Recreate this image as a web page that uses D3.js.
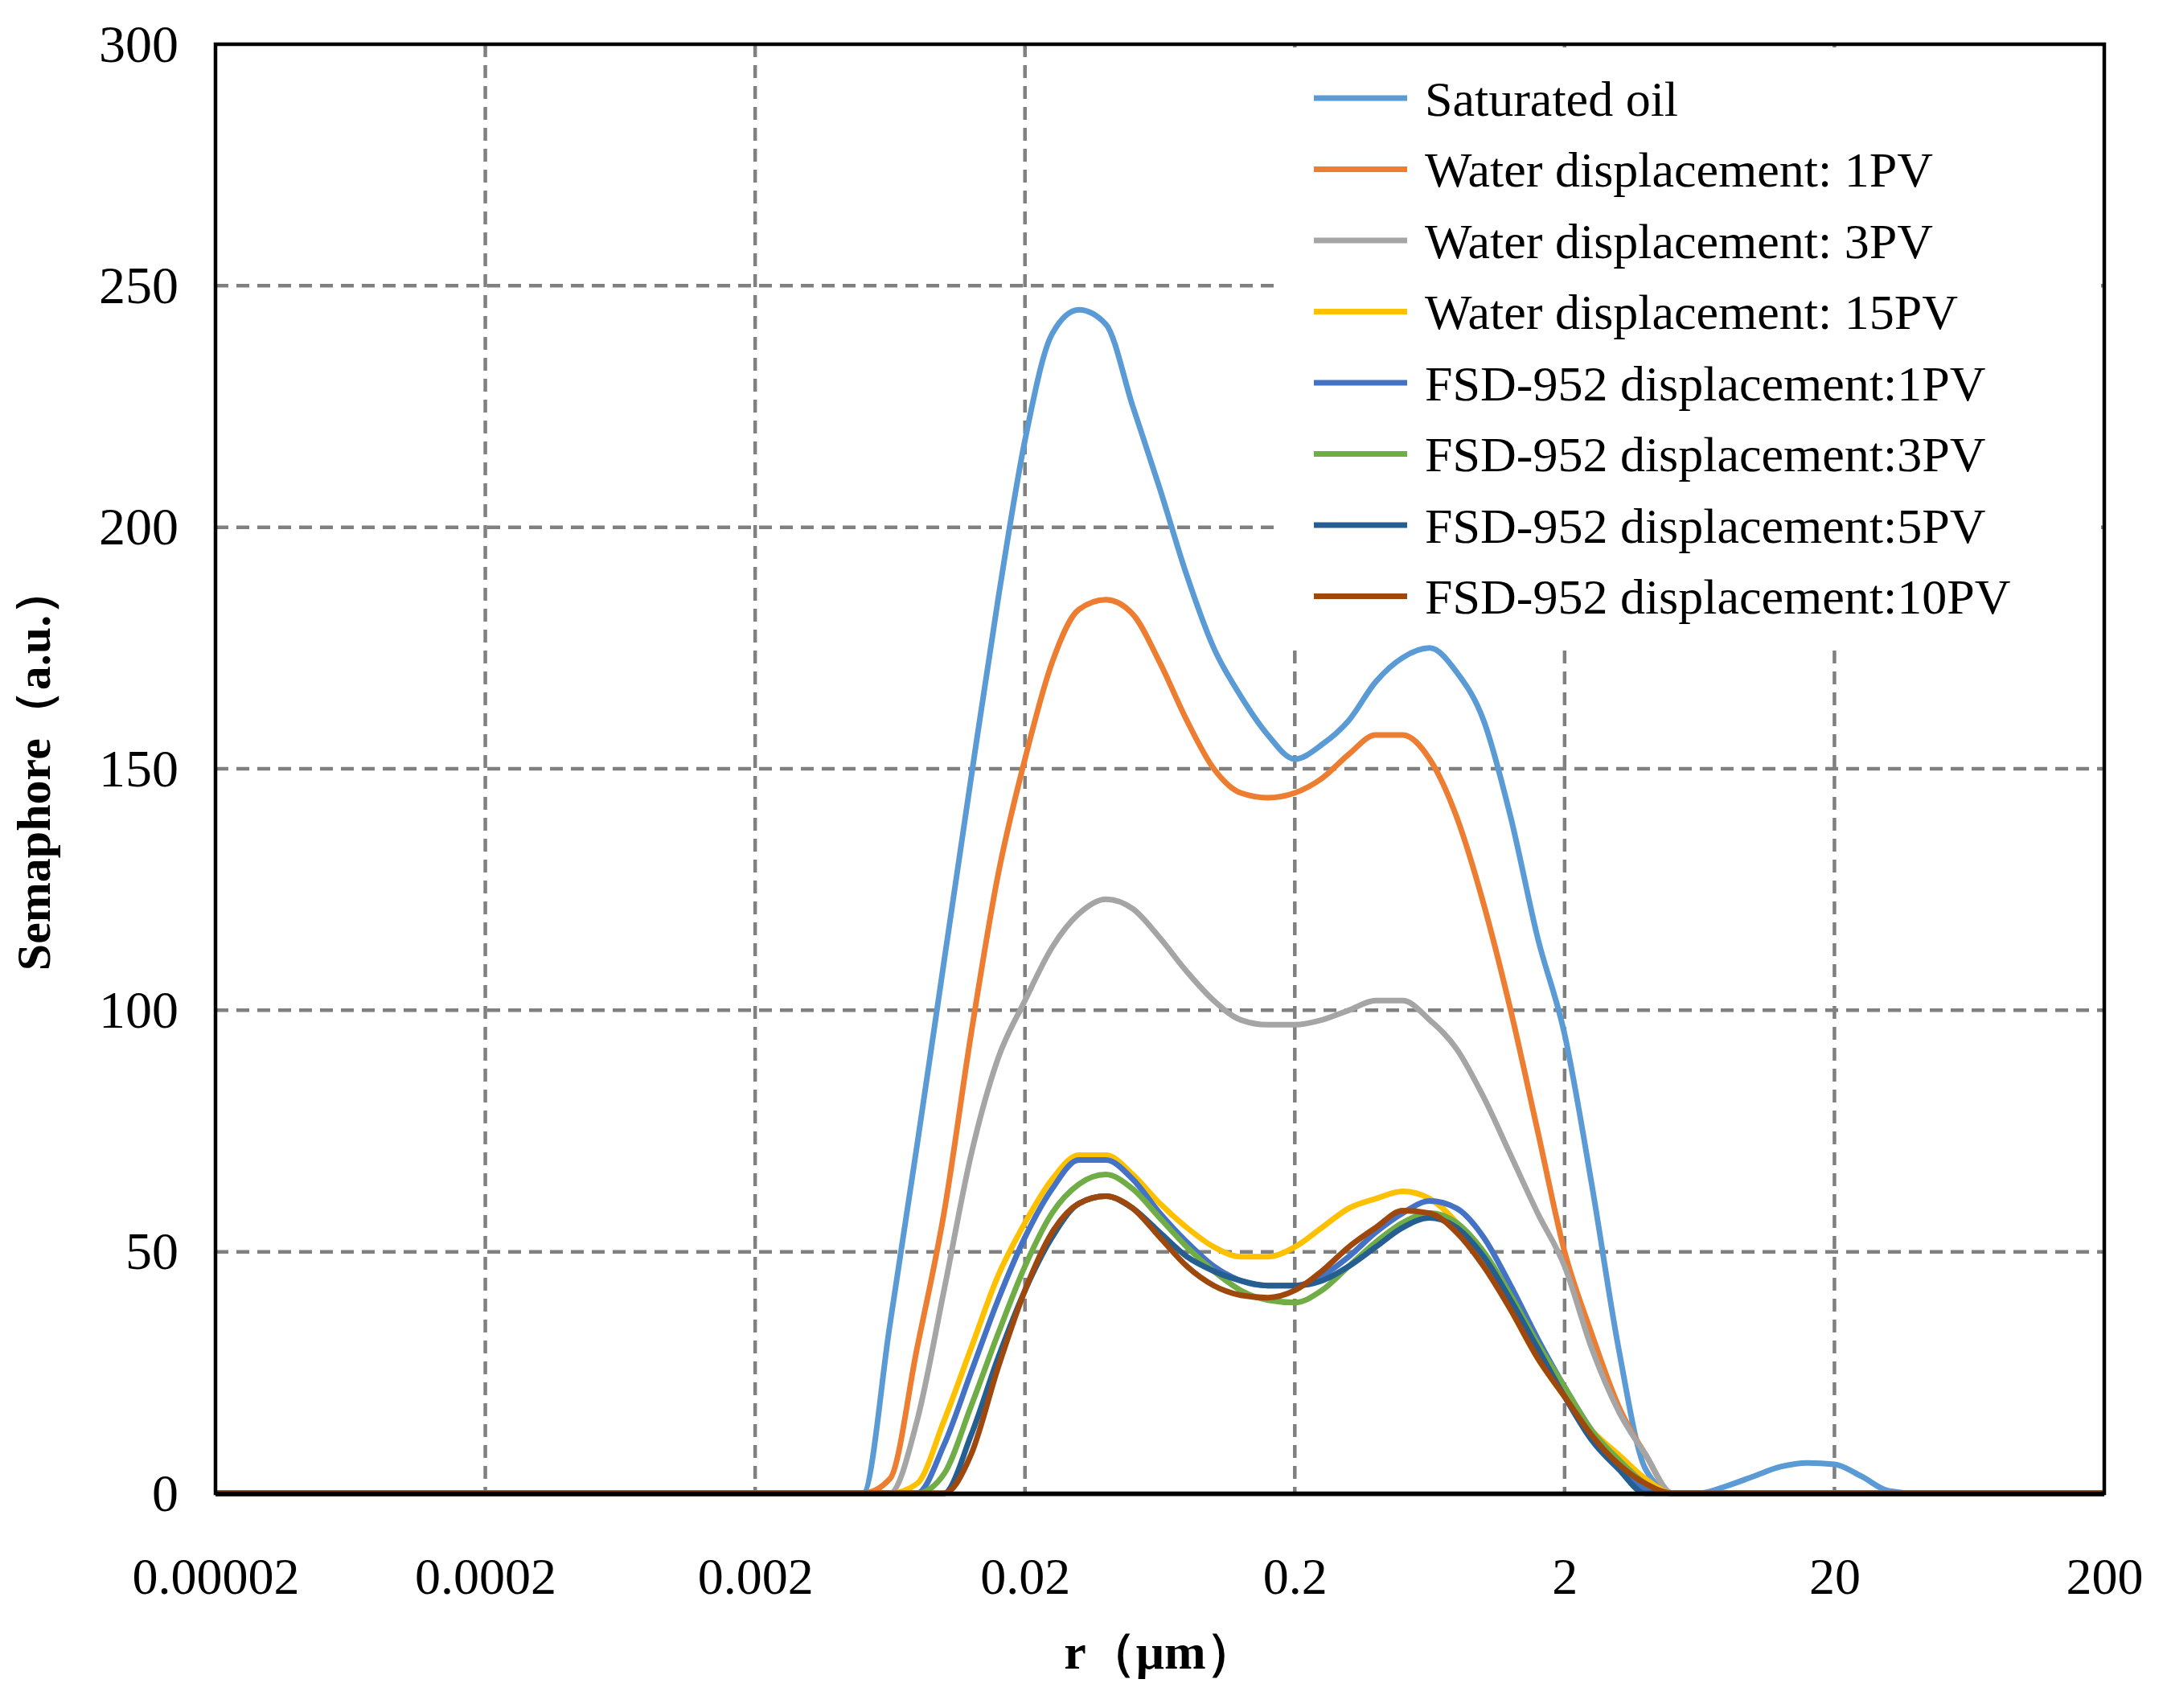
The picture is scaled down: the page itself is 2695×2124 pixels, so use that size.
<!DOCTYPE html>
<html><head><meta charset="utf-8">
<script src="https://cdn.jsdelivr.net/npm/d3@7"></script>
<style>body{margin:0;background:#fff}</style>
</head><body>
<svg id="c" width="2695" height="2124"></svg>
<script>
const xTicks = [0.00002,0.0002,0.002,0.02,0.2,2,20,200];
const xTickLabels = ["0.00002","0.0002","0.002","0.02","0.2","2","20","200"];
const yTicks = [0,50,100,150,200,250,300];
const rGrid = [0.00002,0.00502,0.00632,0.00796,0.01002,0.01262,0.01589,0.02,0.0252,0.0317,0.0399,0.0502,0.0632,0.0796,0.1002,0.1262,0.1589,0.2,0.252,0.317,0.399,0.502,0.632,0.796,1.002,1.262,1.589,2,2.52,3.17,3.99,5.02,6.32,7.96,10.02,12.62,15.89,20,25.2,31.7,39.9,200];
const satOil   = [0,0,35,72,110,148,185,218,240,245,242,225,208,190,175,165,157,152,155,160,168,173,175,170,160,140,115,95,64,30,5,0,0,1.5,3.5,5.5,6.3,6,3.5,0.5,0,0];
const water1   = [0,0,3,30,58,95,128,152,172,183,185,182,172,160,150,145,144,145,148,153,157,157,152,140,122,100,75,50,33,18,8,0,0,0,0,0,0,0,0,0,0,0];
const water3   = [0,0,0,15,42,70,90,102,113,120,123,121,115,108,102,98,97,97,98,100,102,102,98,92,82,70,58,47,30,17,8,0,0,0,0,0,0,0,0,0,0,0];
const water15  = [0,0,0,2,15,30,45,56,65,70,70,66,60,55,51,49,49,51,55,59,61,62.5,61,56,48,38,28,20,13,8,3,0,0,0,0,0,0,0,0,0,0,0];
const fsd1     = [0,0,0,0,10,25,40,53,63,69,69,65,58,52,47,44,43,43,45,49,54,58,60.5,59,53,43,32,22,13,6,1,0,0,0,0,0,0,0,0,0,0,0];
const fsd3     = [0,0,0,0,4,18,33,47,58,64,66,63,57,51,46,42,40,39.5,42,47,52,56,58,56,50,41,31,22,13,7,2,0,0,0,0,0,0,0,0,0,0,0];
const fsd5     = [0,0,0,0,0,12,28,42,53,60,61.5,59,54,49,46,44,43,43,44,47,51,55,57,55,49,40,30,20,11,5,0,0,0,0,0,0,0,0,0,0,0,0];
const fsd10    = [0,0,0,0,0,8,26,42,54,60,61.5,59,53,47,43,41,40.5,42,46,51,55,58.5,58,54,47,38,28,20,12,6,2,0,0,0,0,0,0,0,0,0,0,0];
const seriesNames = ["Saturated oil","Water displacement: 1PV","Water displacement: 3PV","Water displacement: 15PV","FSD-952 displacement:1PV","FSD-952 displacement:3PV","FSD-952 displacement:5PV","FSD-952 displacement:10PV"];
const seriesValues = [satOil,water1,water3,water15,fsd1,fsd3,fsd5,fsd10];
const colors = ["#5B9BD5","#ED7D31","#A5A5A5","#FFC000","#4472C4","#70AD47","#255E91","#9E480E"];

const L=268,R=2617,T=55,B=1857;
const svg=d3.select("#c");
const x=d3.scaleLog().domain([0.00002,200]).range([L,R]);
const y=d3.scaleLinear().domain([0,300]).range([B,T]);
const font="'Liberation Serif','Times New Roman',serif";

const grid=svg.append("g").attr("stroke","#808080").attr("stroke-width",4.5).attr("stroke-dasharray","16,10");
yTicks.filter(v=>v>0&&v<300).forEach(v=>grid.append("line").attr("x1",L).attr("x2",R).attr("y1",y(v)).attr("y2",y(v)));
xTicks.slice(1,-1).forEach(v=>grid.append("line").attr("x1",x(v)).attr("x2",x(v)).attr("y1",T).attr("y2",B));

svg.append("rect").attr("x",1592).attr("y",T+4).attr("width",R-1592-4).attr("height",740).attr("fill","#fff");

const line=d3.line().x((d,i)=>x(rGrid[i])).y(d=>y(d)).curve(d3.curveMonotoneX);
seriesValues.forEach((s,k)=>{
  svg.append("path").attr("d",line(s)).attr("fill","none").attr("stroke",colors[k]).attr("stroke-width",7).attr("stroke-linejoin","round");
});

svg.append("rect").attr("x",L).attr("y",T).attr("width",R-L).attr("height",B-T).attr("fill","none").attr("stroke","#000").attr("stroke-width",4.5);
svg.append("line").attr("x1",L).attr("x2",R).attr("y1",B+1).attr("y2",B+1).attr("stroke","#000").attr("stroke-width",5);

const xa=svg.append("g").attr("transform",`translate(0,${B})`).call(d3.axisBottom(x).tickValues(xTicks).tickFormat((d,i)=>xTickLabels[i]).tickSize(0).tickPadding(80));
xa.select(".domain").remove();
xa.selectAll("text").attr("font-family",font).attr("font-size",64).attr("fill","#000");
const ya=svg.append("g").attr("transform",`translate(${L},0)`).call(d3.axisLeft(y).tickValues(yTicks).tickSize(0).tickPadding(46));
ya.select(".domain").remove();
ya.selectAll("text").attr("font-family",font).attr("font-size",66).attr("fill","#000");

svg.append("text").attr("x",(L+R)/2).attr("y",2075).attr("text-anchor","middle").attr("font-family",font).attr("font-weight","bold").attr("font-size",62).text("r（μm）");
svg.append("text").attr("transform",`translate(62,${(T+B)/2}) rotate(-90)`).attr("text-anchor","middle").attr("font-family",font).attr("font-weight","bold").attr("font-size",60).text("Semaphore（a.u.）");

const lg=svg.append("g");
seriesNames.forEach((n,k)=>{
  const yy=122+k*88.5;
  lg.append("line").attr("x1",1634).attr("x2",1750).attr("y1",yy).attr("y2",yy).attr("stroke",colors[k]).attr("stroke-width",7);
  lg.append("text").attr("x",1772).attr("y",yy).attr("dy","0.35em").attr("font-family",font).attr("font-size",62).text(n);
});
</script>
</body></html>
